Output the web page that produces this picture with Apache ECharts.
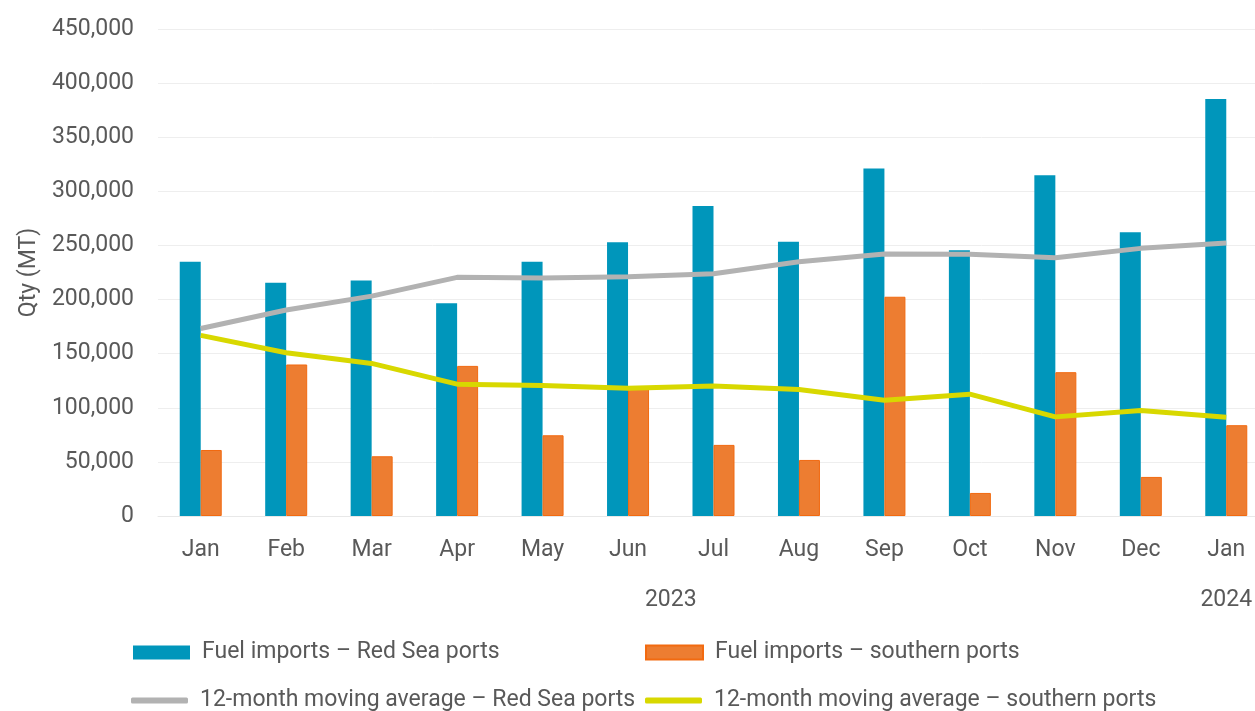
<!DOCTYPE html>
<html>
<head>
	<meta charset="UTF-8">
	<title>Fuel imports</title>
	<script src="https://cdn.jsdelivr.net/npm/echarts@6/dist/echarts.min.js"></script>
	<style>
		html, body { margin: 0; padding: 0; background: #fff; }
		#main { width: 1255px; height: 711px; }
	</style>
</head>
<body>
	<div id="main"></div>
	<script>
		var months = ['Jan', 'Feb', 'Mar', 'Apr', 'May', 'Jun', 'Jul', 'Aug', 'Sep', 'Oct', 'Nov', 'Dec', 'Jan'];
		var redSeaImports = [235000, 215500, 217700, 196700, 235000, 252900, 286500, 253400, 321000, 245500, 314900, 262100, 385400];
		var southernImports = [61000, 140000, 55200, 138700, 74600, 119800, 65700, 51800, 202600, 21300, 132900, 36100, 83900];
		var redSeaAvg = [173300, 190300, 203200, 220500, 220000, 221000, 223800, 235000, 242000, 241800, 238700, 247300, 252200];
		var southernAvg = [166900, 150800, 141000, 121800, 120600, 118100, 120200, 116900, 107000, 112600, 91600, 97500, 91300];
		// year labels sit on the month boundaries axis (0..13)
		var yearTicks = { 6: '2023', 12.5: '2024' };

		var textColor = '#595959';
		var fontName = 'Roboto';
		var fs = 23;

		var chart = echarts.init(document.getElementById('main'));

		// one legend per entry so the 2x2 layout stays put
		function legendBox(name, left, top, h, icon) {
			return {
				left: left,
				top: top,
				icon: icon,
				itemWidth: 57,
				itemHeight: h,
				textStyle: { color: textColor, fontSize: fs, fontFamily: fontName, padding: [0, 0, 0, 7] },
				data: [name]
			};
		}

		var option = {
			animation: false,
			textStyle: { fontFamily: fontName },
			grid: {
				left: 158,
				right: -14,
				top: 29,
				bottom: 195,
				containLabel: false,
				outerBoundsMode: 'none'
			},
			legend: [
				legendBox('Fuel imports – Red Sea ports', 128, 636, 14, 'rect'),
				legendBox('Fuel imports – southern ports', 640, 636, 14, 'rect'),
				legendBox('12-month moving average – Red Sea ports', 126, 684, 6, 'roundRect'),
				legendBox('12-month moving average – southern ports', 640, 684, 6, 'roundRect')
			],
			xAxis: [{
				type: 'category',
				data: months,
				boundaryGap: true,
				axisLine: { lineStyle: { color: '#e8e8e8' } },
				axisTick: { show: false },
				axisLabel: { color: textColor, fontSize: fs, margin: 23 }
			}, {
				type: 'value',
				position: 'bottom',
				min: 0,
				max: 13,
				interval: 0.5,
				axisLine: { show: false },
				axisTick: { show: false },
				splitLine: { show: false },
				axisLabel: {
					color: textColor,
					fontSize: fs,
					margin: 73,
					showMinLabel: true,
					showMaxLabel: true,
					formatter: function (v) {
						return yearTicks[v] || '';
					}
				}
			}],
			yAxis: {
				type: 'value',
				min: 0,
				max: 450000,
				interval: 50000,
				name: 'Qty (MT)',
				nameLocation: 'middle',
				nameGap: 114,
				nameTextStyle: { color: textColor, fontSize: fs },
				axisLine: { show: false },
				axisTick: { show: false },
				axisLabel: {
					color: textColor,
					fontSize: fs,
					margin: 24,
					formatter: function (v) {
						return v.toLocaleString('en-US');
					}
				},
				splitLine: { lineStyle: { color: '#eeeeee', width: 1 } }
			},
			series: [{
				name: 'Fuel imports – Red Sea ports',
				type: 'bar',
				barWidth: 21,
				barGap: '0%',
				itemStyle: { color: '#0096bb' },
				data: redSeaImports
			}, {
				name: 'Fuel imports – southern ports',
				type: 'bar',
				barWidth: 21,
				barGap: '0%',
				itemStyle: { color: '#ed7d31', borderColor: '#f26a10', borderWidth: 1 },
				data: southernImports
			}, {
				name: '12-month moving average – Red Sea ports',
				type: 'line',
				symbol: 'none',
				lineStyle: { color: '#b2b2b2', width: 5 },
				itemStyle: { color: '#b2b2b2' },
				data: redSeaAvg
			}, {
				name: '12-month moving average – southern ports',
				type: 'line',
				symbol: 'none',
				lineStyle: { color: '#d8d800', width: 5 },
				itemStyle: { color: '#d8d800' },
				data: southernAvg
			}]
		};

		chart.setOption(option);
	</script>
</body>
</html>
